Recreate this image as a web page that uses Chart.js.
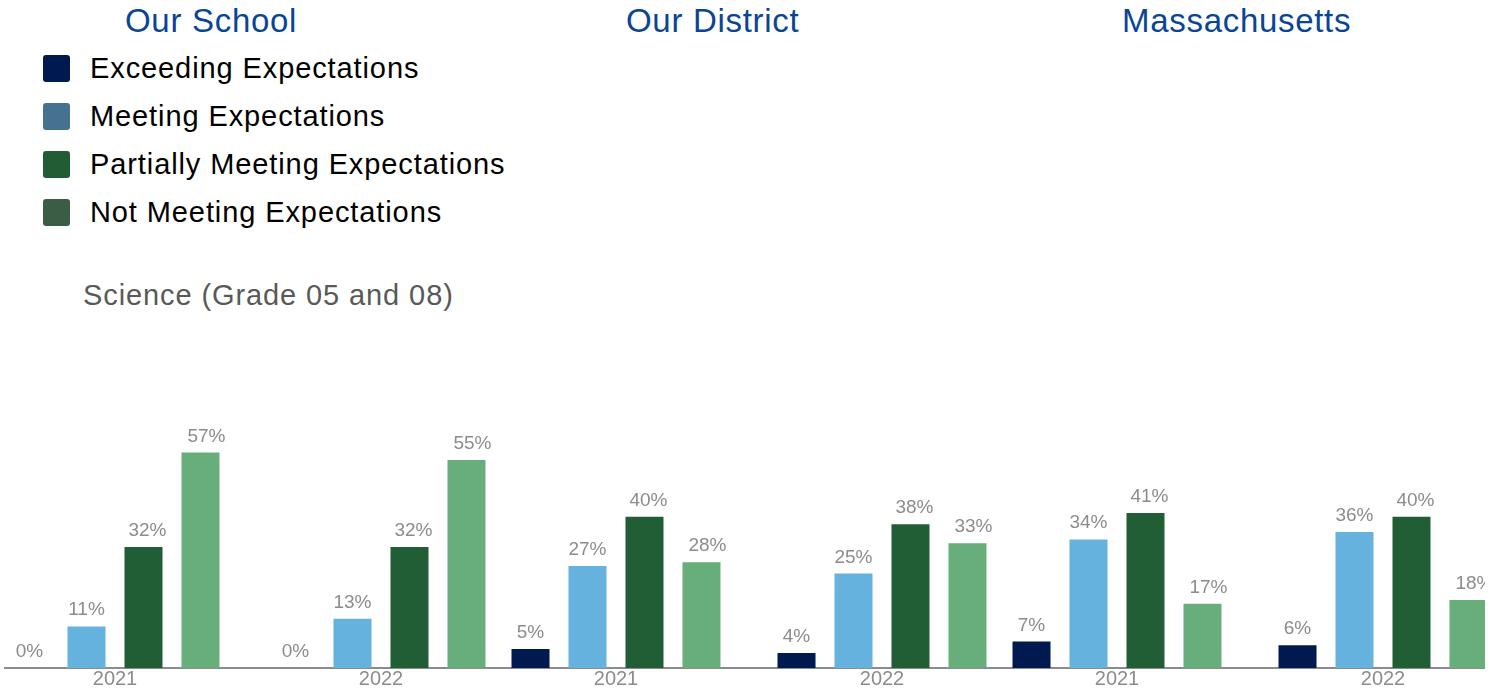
<!DOCTYPE html>
<html>
<head>
<meta charset="utf-8">
<title>Science (Grade 05 and 08)</title>
<script src="https://cdn.jsdelivr.net/npm/chart.js@4"></script>
<style>
  body { margin: 0; width: 1498px; height: 691px; overflow: hidden; background: #fff;
         font-family: "Liberation Sans", Arial, sans-serif; }
  .head { position: absolute; top: 0; font-size: 33px; letter-spacing: 0.7px; color: #0a4595; line-height: 42px; }
  #legend { position: absolute; left: 43px; top: 44px; margin: 0; padding: 0; list-style: none; }
  #legend li { height: 48px; display: flex; align-items: center; font-size: 29px; letter-spacing: 0.9px; color: #000; }
  #legend span { display: inline-block; width: 27px; height: 27px; border-radius: 3px; margin-right: 20px; }
  #title { position: absolute; left: 83px; top: 279px; font-size: 29px; letter-spacing: 0.9px; color: #595959; }
  #plots { position: absolute; left: 4px; top: 0; width: 1481px; height: 691px; overflow: hidden; }
  #plots canvas { position: absolute; top: 250px; }
</style>
</head>
<body>
<div class="head" style="left:125px">Our School</div>
<div class="head" style="left:626px">Our District</div>
<div class="head" style="left:1122px">Massachusetts</div>
<ul id="legend"></ul>
<div id="title">Science (Grade 05 and 08)</div>
<div id="plots">
  <canvas id="c0" width="532" height="441" style="left:-22px"></canvas>
  <canvas id="c1" width="532" height="441" style="left:479px"></canvas>
  <canvas id="c2" width="532" height="441" style="left:980px"></canvas>
</div>
<script>
// school 2021, school 2022, district 2021, district 2022, state 2021, state 2022
var years = ['2021', '2022'];
var exceeding = [0, 0, 5, 4, 7, 6];
var meeting = [11, 13, 27, 25, 34, 36];
var partially = [32, 32, 40, 38, 41, 40];
var notMeeting = [57, 55, 28, 33, 17, 18];

var seriesNames = ['Exceeding Expectations', 'Meeting Expectations', 'Partially Meeting Expectations', 'Not Meeting Expectations'];
var barColors = ['#001a4f', '#66b2de', '#225e35', '#68ae7b'];
var legendColors = ['#001a4f', '#45738f', '#225c35', '#3b5c45'];

var legend = document.getElementById('legend');
seriesNames.forEach(function(name, i){
  var li = document.createElement('li');
  li.innerHTML = '<span style="background:' + legendColors[i] + '"></span>' + name;
  legend.appendChild(li);
});

Chart.defaults.font.family = '"Liberation Sans", Arial, sans-serif';

// percentage text over every bar (the last two series sit a little to the right)
var labelShift = [0, 0, 4, 6];
var valueLabels = {
  id: 'valueLabels',
  afterDatasetsDraw: function(chart){
    var ctx = chart.ctx;
    ctx.save();
    ctx.font = '19px "Liberation Sans", Arial, sans-serif';
    ctx.fillStyle = '#8c8c8c';
    ctx.textAlign = 'center';
    ctx.textBaseline = 'alphabetic';
    chart.data.datasets.forEach(function(ds, i){
      chart.getDatasetMeta(i).data.forEach(function(bar, j){
        ctx.fillText(ds.data[j] + '%', bar.x + labelShift[i], bar.y - 11);
      });
    });
    ctx.restore();
  }
};

var all = [exceeding, meeting, partially, notMeeting];
for (var k = 0; k < 3; k++) {
  new Chart(document.getElementById('c' + k), {
    type: 'bar',
    data: {
      labels: years,
      datasets: all.map(function(vals, i){
        return {
          label: seriesNames[i],
          data: vals.slice(k * 2, k * 2 + 2),
          backgroundColor: barColors[i],
          borderWidth: 0,
          categoryPercentage: 0.857,
          barPercentage: 0.667
        };
      })
    },
    options: {
      responsive: false,
      animation: false,
      layout: { padding: { top: 40, left: 0, right: 0, bottom: 0 } },
      plugins: { legend: { display: false }, tooltip: { enabled: false } },
      scales: {
        x: {
          grid: { display: false, drawTicks: false },
          border: { display: true, color: '#8c8c8c', width: 2 },
          ticks: { color: '#8c8c8c', padding: 0, font: { size: 20, lineHeight: 1.15 } }
        },
        y: { display: false, min: 0, max: 100 }
      }
    },
    plugins: [valueLabels]
  });
}
</script>
</body>
</html>
